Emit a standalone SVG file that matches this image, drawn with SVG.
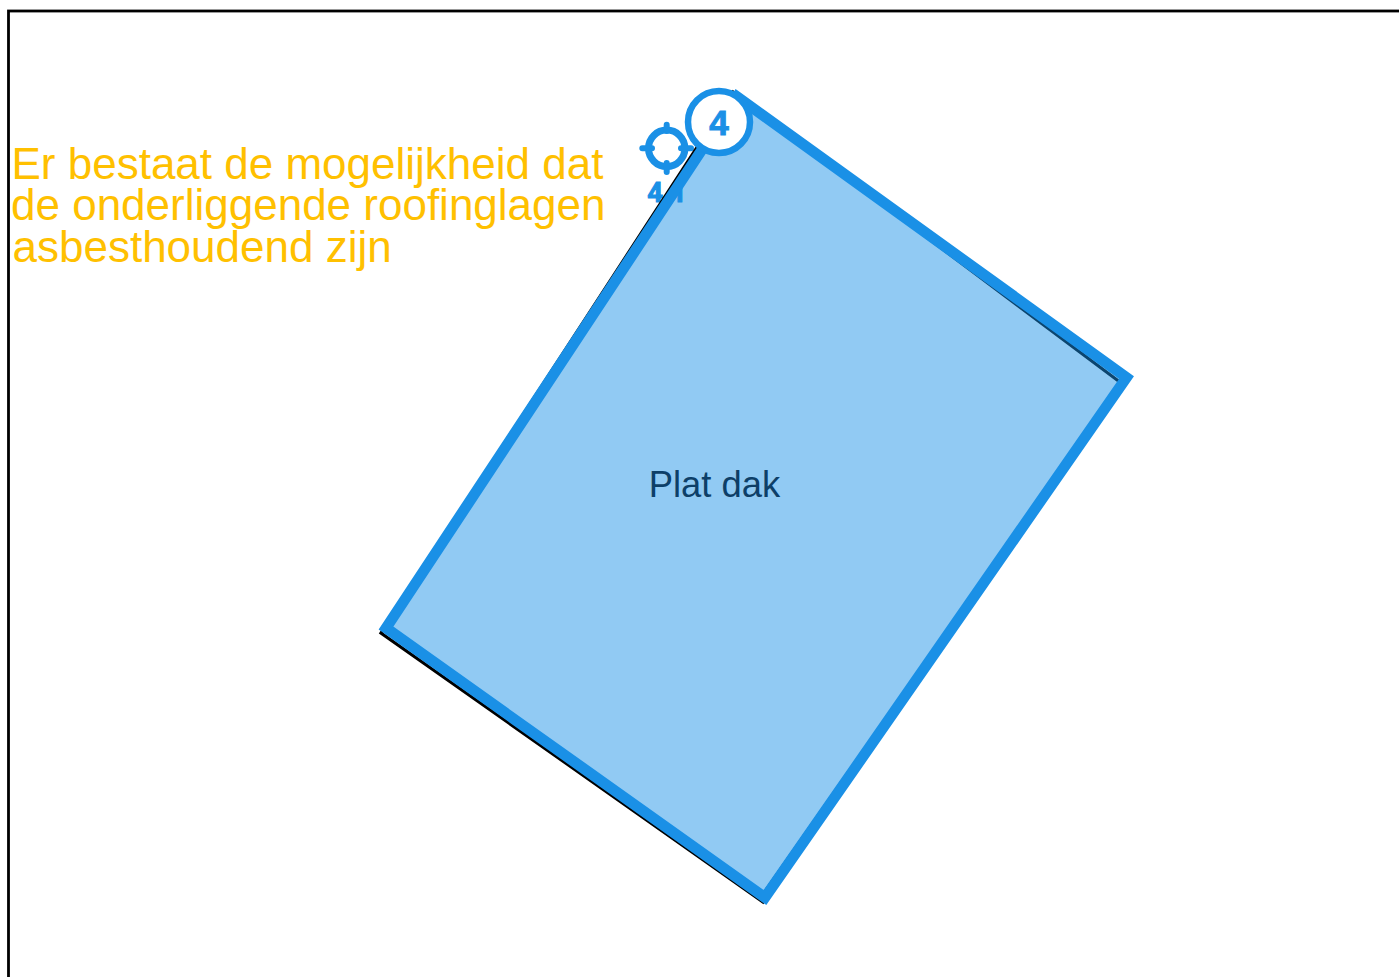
<svg xmlns="http://www.w3.org/2000/svg" width="1399" height="977" viewBox="0 0 1399 977">
<style>
.blue{fill:none;stroke:#1a90e6}
.lbl{font-family:"Liberation Sans",Arial,sans-serif}
.mark{font-weight:bold;fill:#1a90e6;stroke:#1a90e6;stroke-width:1;text-anchor:middle}
.note{font-size:44px;fill:#ffc000}
</style>
<rect width="1399" height="977" fill="#fff"/>
<rect x="8.500" y="11" width="1500" height="1100" fill="none" stroke="#000" stroke-width="2.800"/>
<g id="punt-4-1">
<circle cx="666.700" cy="148.300" r="18.200" class="blue" stroke-width="7"/>
<path d="M642.300 148.300H652M681 148.300H691M666.700 124.700V131M666.700 163V172" class="blue" stroke-width="6" stroke-linecap="round"/>
<text x="667" y="202" font-family="Roboto,sans-serif" class="mark" font-size="27.500">4.1</text>
</g>
<g id="dak">
<polygon points="733,92 1120.500,382.500 763,902 381,633" fill="none" stroke="#000" stroke-width="3.200"/>
<path d="M1121 380L763.500 891.500" fill="none" stroke="#000" stroke-width="1"/>
<polygon points="737,96.600 1126.500,377.500 765,897.500 386,628" fill="#1a90e6" fill-opacity="0.48"/>
<polygon points="737,96.600 1126.500,377.500 765,897.500 386,628" class="blue" stroke-width="10.800"/>
<text x="714.500" y="497" class="lbl" font-size="36.400" fill="#0d3f68" text-anchor="middle">Plat dak</text>
</g>
<g id="punt-4">
<circle cx="719" cy="122" r="31" fill="#fff" stroke="#1a90e6" stroke-width="6.500"/>
<text x="719" y="135" class="lbl mark" font-size="35">4</text>
</g>
<g id="opmerking" class="lbl note">
<text x="11.500" y="179">Er bestaat de mogelijkheid dat</text>
<text x="11" y="220">de onderliggende roofinglagen</text>
<text x="12.500" y="262">asbesthoudend zijn</text>
</g>
</svg>
